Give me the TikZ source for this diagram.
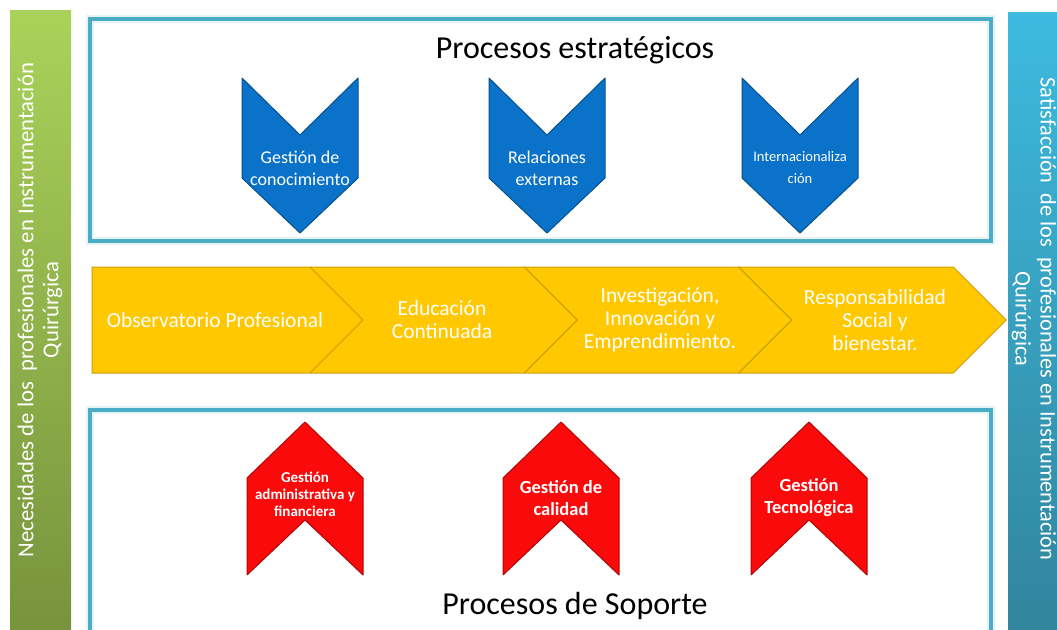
\documentclass[tikz,border=0pt]{standalone}
\usepackage{fontspec}
\setmainfont{Carlito}
\usetikzlibrary{calc}
\definecolor{framecyan}{RGB}{75,172,198}
\definecolor{estrblue}{RGB}{10,114,200}
\definecolor{sopred}{RGB}{250,10,10}
\definecolor{bandyellow}{RGB}{255,200,0}
\newcommand{\clrframe}{framecyan}
\newcommand{\clrestr}{estrblue}
\newcommand{\clrsop}{sopred}
\newcommand{\clrband}{bandyellow}

\begin{document}
\begin{tikzpicture}[x=1pt, y=-1pt,
    framebox/.style={draw=\clrframe, line width=4pt},
    glowbox/.style={draw=\clrframe!15, line width=8pt},
    chev/.style={line width=1pt, line join=round},
    lbl/.style={text=white, align=center, inner sep=0pt}]
    \useasboundingbox (0,0) rectangle (1057,629);
    \clip (0,0) rectangle (1057,629);
%side bars
    \shade[top color={rgb,255:red,170;green,210;blue,90}, bottom color={rgb,255:red,118;green,146;blue,60}] (10,10) rectangle (71,640);
    \shade[top color={rgb,255:red,61;green,186;blue,224}, bottom color={rgb,255:red,49;green,132;blue,155}] (1008,12) rectangle (1062,640);
    \node[lbl, rotate=90, font=\fontsize{22.7}{25}\selectfont] (need) at (40,310) {Necesidades de los\ \ profesionales en Instrumentación\\Quirúrgica};
    \node[lbl, rotate=-90, font=\fontsize{22.3}{25}\selectfont] (satis) at (1034,319) {Satisfacción\ \ de los\ \ profesionales en Instrumentación\\Quirúrgica};
%frames
    \draw[glowbox] (90,19) rectangle (991,241);
    \draw[framebox] (90,19) rectangle (991,241);
    \draw[glowbox] (90,410) rectangle (991,660);
    \draw[framebox] (90,410) rectangle (991,660);
    \node[font=\fontsize{32}{38}\selectfont] (estrtitle) at (575,50) {Procesos estratégicos};
    \node[font=\fontsize{32}{38}\selectfont] (soptitle) at (575,606) {Procesos de Soporte};
%estrategicos
    \foreach \cx/\nm/\fs/\txt in {300/gc/18/{Gestión de\\conocimiento}, 547/re/18/{Relaciones\\externas}, 800/in/14.5/{Internacionaliza\\ción}} {
        \fill[\clrestr, chev] (\cx-58,78) -- (\cx,135) -- (\cx+58,78) -- (\cx+58,178) -- (\cx,233) -- (\cx-58,178) -- cycle;
        \draw[\clrestr!70!black, chev] (\cx-58,78) -- (\cx,135) -- (\cx+58,78) -- (\cx+58,178) -- (\cx,233) -- (\cx-58,178) -- cycle;
        \node[lbl, font=\fontsize{\fs}{22}\selectfont] (estr\nm) at (\cx,168) {\txt};
    }
%band
    \fill[\clrband] (92,267) -- (310,267) -- (363,320) -- (310,373) -- (92,373) -- cycle;
    \draw[\clrband!80!black, chev] (92,267) -- (310,267) -- (363,320) -- (310,373) -- (92,373) -- cycle;
    \foreach \i in {1,...,3} {
        \pgfmathsetmacro\tr{310+214.4*\i}
        \pgfmathsetmacro\lf{\tr-214.4}
        \fill[\clrband] (\lf,267) -- (\tr,267) -- (\tr+53,320) -- (\tr,373) -- (\lf,373) -- (\lf+53,320) -- cycle;
        \draw[\clrband!80!black, chev] (\lf,267) -- (\tr,267) -- (\tr+53,320) -- (\tr,373) -- (\lf,373) -- (\lf+53,320) -- cycle;
    }
    \foreach \i/\tx/\txt in {0/215/{Observatorio Profesional}, 1/442/{Educación\\Continuada}, 2/660/{Investigación,\\Innovación y\\Emprendimiento.}, 3/875/{Responsabilidad\\Social y\\bienestar.}} {
        \node[lbl, font=\fontsize{21.5}{23}\selectfont] (band\i) at (\tx,320) {\txt};
    }
%soporte
    \foreach \cx/\nm/\fs/\ls/\cy/\txt in {305/adm/15/17/494/{Gestión\\administrativa y\\financiera}, 561/cal/18.5/22/498/{Gestión de\\calidad}, 809/tec/18.5/22/498/{Gestión\\Tecnológica}} {
        \fill[\clrsop, chev] (\cx,422) -- (\cx+58,478) -- (\cx+58,575) -- (\cx,520) -- (\cx-58,575) -- (\cx-58,478) -- cycle;
        \draw[\clrsop!70!black, chev] (\cx,422) -- (\cx+58,478) -- (\cx+58,575) -- (\cx,520) -- (\cx-58,575) -- (\cx-58,478) -- cycle;
        \node[lbl, font=\bfseries\fontsize{\fs}{\ls}\selectfont] (sop\nm) at (\cx,\cy) {\txt};
    }
\end{tikzpicture}
\end{document}
